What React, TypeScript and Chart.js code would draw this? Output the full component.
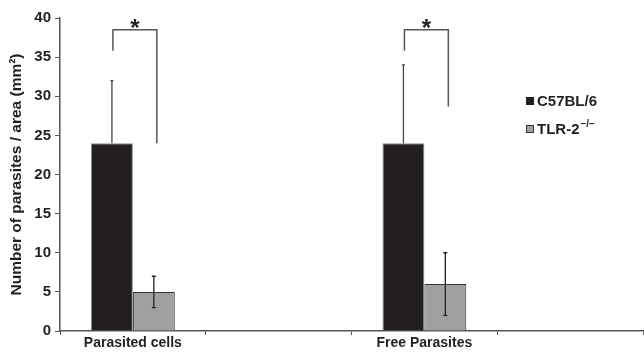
import React, { useEffect, useRef } from "react";
import { Chart, registerables } from "chart.js";

Chart.register(...registerables);

const categories = ["Parasited cells", "", "Free Parasites", ""];
const c57Values = [24, null, 24, null];
const tlrValues = [5, null, 6, null];
const c57Upper = [32, null, 34, null];
const tlrLower = [3, null, 2, null];
const tlrUpper = [7, null, 10, null];
const bracketTop = [38.5, null, 38.5, null];
const bracketLeftEnd = [35.8, null, 35.8, null];
const bracketRightEnd = [24, null, 28.7, null];
const yTicks = [0, 5, 10, 15, 20, 25, 30, 35, 40];

const FONT = "'Liberation Sans', Arial, sans-serif";

const overlayPlugin = {
  id: "overlay",
  afterDatasetsDraw(chart: any) {
    const ctx = chart.ctx;
    const y = chart.scales.y;
    const m0 = chart.getDatasetMeta(0);
    const m1 = chart.getDatasetMeta(1);
    ctx.save();
    // error bars
    ctx.lineWidth = 1.3;
    for (let i = 0; i < categories.length; i++) {
      if (c57Upper[i] != null) {
        const x = m0.data[i].x;
        const yt = y.getPixelForValue(c57Upper[i] as number);
        ctx.strokeStyle = "#444";
        ctx.beginPath();
        ctx.moveTo(x, y.getPixelForValue(c57Values[i] as number));
        ctx.lineTo(x, yt);
        ctx.moveTo(x - 1.5, yt);
        ctx.lineTo(x + 1.5, yt);
        ctx.stroke();
      }
      if (tlrUpper[i] != null) {
        const x = m1.data[i].x;
        const yl = y.getPixelForValue(tlrLower[i] as number);
        const yh = y.getPixelForValue(tlrUpper[i] as number);
        ctx.strokeStyle = "#222";
        ctx.beginPath();
        ctx.moveTo(x, yl);
        ctx.lineTo(x, yh);
        ctx.moveTo(x - 2, yl);
        ctx.lineTo(x + 2, yl);
        ctx.moveTo(x - 2, yh);
        ctx.lineTo(x + 2, yh);
        ctx.stroke();
      }
    }
    // brackets
    ctx.strokeStyle = "#555";
    ctx.lineWidth = 1.5;
    for (let i = 0; i < categories.length; i++) {
      if (bracketTop[i] == null) continue;
      const xl = m0.data[i].x + 1;
      const xr = m1.data[i].x + 3;
      const yt = y.getPixelForValue(bracketTop[i] as number);
      ctx.beginPath();
      ctx.moveTo(xl, y.getPixelForValue(bracketLeftEnd[i] as number));
      ctx.lineTo(xl, yt);
      ctx.lineTo(xr, yt);
      ctx.lineTo(xr, y.getPixelForValue(bracketRightEnd[i] as number));
      ctx.stroke();
      ctx.fillStyle = "#222";
      ctx.font = `bold 24px ${FONT}`;
      ctx.textAlign = "center";
      ctx.textBaseline = "alphabetic";
      ctx.fillText("*", (xl + xr) / 2, yt + 6);
    }
    // legend
    const lx = 526;
    const items = [
      { y: 101, fill: "#231f20", stroke: "#231f20", text: "C57BL/6", sup: "" },
      { y: 129, fill: "#a0a0a2", stroke: "#333", text: "TLR-2", sup: "\u2212/\u2212" },
    ];
    ctx.textAlign = "left";
    ctx.textBaseline = "middle";
    for (const it of items) {
      ctx.fillStyle = it.fill;
      ctx.fillRect(lx, it.y - 4, 8, 8);
      ctx.strokeStyle = it.stroke;
      ctx.lineWidth = 1;
      ctx.strokeRect(lx + 0.5, it.y - 3.5, 7, 7);
      ctx.fillStyle = "#231f20";
      ctx.font = `bold 15px ${FONT}`;
      ctx.fillText(it.text, lx + 11, it.y + 0.5);
      if (it.sup) {
        const w = ctx.measureText(it.text).width;
        ctx.font = `bold 10px ${FONT}`;
        ctx.fillText(it.sup, lx + 11 + w + 1, it.y - 5);
      }
    }
    ctx.restore();
  },
};

export default function App() {
  const ref = useRef<HTMLCanvasElement>(null);
  useEffect(() => {
    document.body.style.margin = "0";
    const chart = new Chart(ref.current as HTMLCanvasElement, {
      type: "bar",
      data: {
        labels: categories,
        datasets: [
          {
            label: "C57BL/6",
            data: c57Values,
            backgroundColor: "#231f20",
            borderColor: "#8a8a8a",
            borderWidth: 1,
            categoryPercentage: 0.575,
            barPercentage: 1,
          },
          {
            label: "TLR-2-/-",
            data: tlrValues,
            backgroundColor: "#a0a0a2",
            borderColor: "#333",
            borderWidth: 1,
            categoryPercentage: 0.575,
            barPercentage: 1,
          },
        ],
      },
      options: {
        animation: false,
        responsive: false,
        layout: { padding: { top: 18, right: 1, left: 0, bottom: 0 } },
        plugins: { legend: { display: false }, tooltip: { enabled: false } },
        scales: {
          x: {
            grid: {
              display: true,
              drawOnChartArea: false,
              drawTicks: true,
              tickLength: 4,
              color: "#555",
              offset: true,
            },
            border: { display: true, color: "#555", width: 1.5 },
            ticks: {
              color: "#231f20",
              font: { family: FONT, size: 14, weight: "bold" },
              padding: 0,
              maxRotation: 0,
              autoSkip: false,
            },
            afterFit: (s: any) => {
              s.height = 23;
            },
          },
          y: {
            min: 0,
            max: 40,
            afterBuildTicks: (s: any) => {
              s.ticks = yTicks.map((v) => ({ value: v }));
            },
            grid: {
              display: true,
              drawOnChartArea: false,
              drawTicks: true,
              tickLength: 5,
              color: "#555",
            },
            border: { display: true, color: "#555", width: 1.5 },
            ticks: {
              color: "#231f20",
              font: { family: FONT, size: 15, weight: "bold" },
              padding: 4,
            },
            title: {
              display: true,
              text: "Number of parasites / area (mm\u00B2)",
              color: "#231f20",
              font: { family: FONT, size: 15.5, weight: "bold" },
              padding: { top: 7, bottom: 0 },
            },
            afterFit: (s: any) => {
              s.width = 60;
            },
          },
        },
      },
      plugins: [overlayPlugin],
    });
    return () => chart.destroy();
  }, []);
  return <canvas ref={ref} width={644} height={354} style={{ display: "block" }} />;
}
